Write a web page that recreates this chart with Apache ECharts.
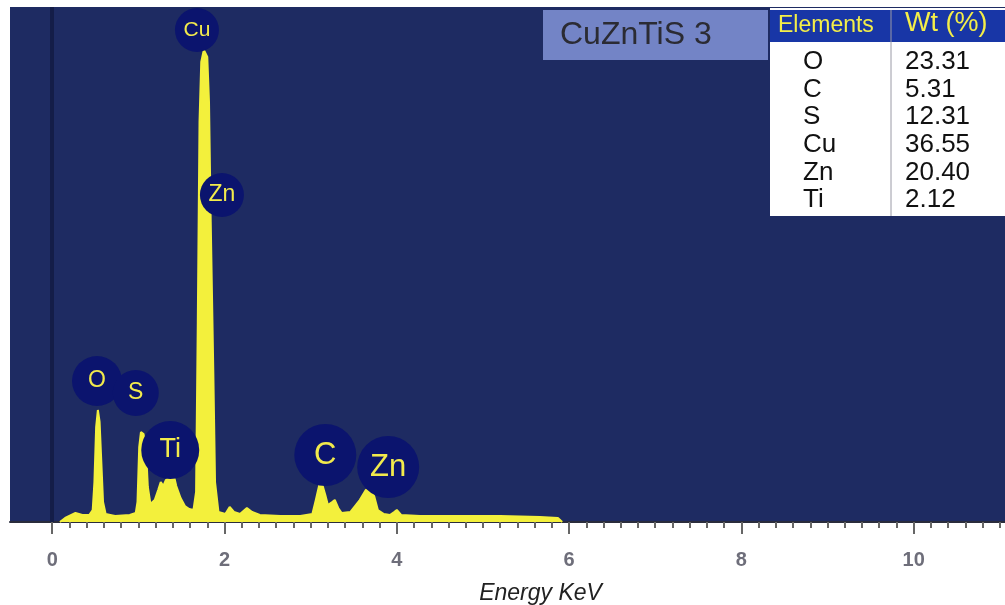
<!DOCTYPE html>
<html>
<head>
<meta charset="utf-8">
<title>CuZnTiS 3 EDX</title>
<script src="https://cdn.jsdelivr.net/npm/echarts@6.0.0/dist/echarts.min.js"></script>
<style>
  html, body { margin: 0; padding: 0; background: #fff; }
  #chart { width: 1005px; height: 605px; }
</style>
</head>
<body>
<div id="chart"></div>
<script>
// spectrum (energy in keV, counts in arbitrary units)
const energy = [0.09, 0.15, 0.27, 0.35, 0.43, 0.47, 0.49, 0.51, 0.53, 0.55, 0.57, 0.59, 0.62, 0.73, 0.90,
  0.97, 0.99, 1.01, 1.03, 1.06, 1.09, 1.11, 1.14, 1.19, 1.23, 1.26, 1.29, 1.32, 1.37, 1.41, 1.44, 1.49, 1.54, 1.59,
  1.64, 1.67, 1.69, 1.71, 1.73, 1.76, 1.80, 1.82, 1.84, 1.87, 1.89, 1.93,
  2.01, 2.06, 2.11, 2.18, 2.26, 2.32, 2.41, 2.65, 2.88, 3.02,
  3.06, 3.10, 3.13, 3.17, 3.20, 3.25, 3.28, 3.32, 3.36, 3.46, 3.57, 3.64, 3.69, 3.74, 3.78, 3.85,
  3.92, 3.97, 4.00, 4.05, 4.27, 5.20, 5.66, 5.87, 5.92];
const counts = [0, 4, 9, 7, 7, 12, 40, 95, 112, 100, 60, 20, 8, 6, 7,
  9, 20, 75, 90, 88, 70, 35, 18, 22, 32, 40, 36, 42, 45, 47, 36, 24, 16, 13,
  12, 30, 200, 400, 460, 472, 465, 420, 300, 150, 40, 10,
  8, 15, 10, 8, 14, 10, 7, 6, 6, 8,
  22, 37, 39, 27, 17, 20, 22, 14, 9, 10, 22, 32, 35, 25, 12, 8,
  7, 10, 12, 7, 6, 6, 5, 4, 0];

// peak labels: element, energy, height of the bubble
const peakNames = ['Cu', 'Zn', 'O', 'S', 'Ti', 'C', 'Zn'];
const peakEnergy = [1.68, 1.97, 0.52, 0.97, 1.37, 3.17, 3.90];
const peakHeight = [492, 327, 141, 129, 72, 67, 55];

const xTicks = [0, 2, 4, 6, 8, 10];

// composition table
const tableElements = ['O', 'C', 'S', 'Cu', 'Zn', 'Ti'];
const tableWt = ['23.31', '5.31', '12.31', '36.55', '20.40', '2.12'];
const sampleName = 'CuZnTiS 3';

const bubbleSize = [44, 44, 50, 46, 58, 62, 62];
const bubbleFont = [21, 23, 23, 23, 27, 31, 31];

const minorTicks = [];
for (let v = 0; v <= 11; v += 0.2) minorTicks.push(+v.toFixed(1));

const chart = echarts.init(document.getElementById('chart'));

const yellow = '#f3f03c';
const font = 'Liberation Sans, Arial, sans-serif';

const tableGraphics = [
  { type: 'rect', shape: { x: 543, y: 10, width: 225, height: 50 }, style: { fill: '#7384c6' } },
  { type: 'text', left: 560, top: 19, style: { text: sampleName, fontSize: 32, fontFamily: font, fill: '#2b2b33' } },
  { type: 'rect', shape: { x: 770, y: 8, width: 240, height: 208 }, style: { fill: '#ffffff' } },
  { type: 'rect', shape: { x: 770, y: 10, width: 240, height: 32 }, style: { fill: '#1836a6' } },
  { type: 'line', shape: { x1: 891, y1: 10, x2: 891, y2: 216 }, style: { stroke: '#9a9aa6', lineWidth: 1 } },
  { type: 'text', left: 778, top: 14, style: { text: 'Elements', fontSize: 23, fontFamily: font, fill: '#f4ee48' } },
  { type: 'text', left: 905, top: 10, style: { text: 'Wt (%)', fontSize: 27, fontFamily: font, fill: '#f4ee48' } }
];
tableElements.forEach((el, i) => {
  tableGraphics.push({ type: 'text', left: 803, top: 49 + i * 27.6, style: { text: el, fontSize: 26, fontFamily: font, fill: '#111' } });
  tableGraphics.push({ type: 'text', left: 905, top: 49 + i * 27.6, style: { text: tableWt[i], fontSize: 26, fontFamily: font, fill: '#111' } });
});

chart.setOption({
  backgroundColor: '#ffffff',
  animation: false,
  grid: {
    left: 10, right: 0, top: 7, bottom: 83,
    containLabel: false, outerBoundsMode: 'none',
    show: true, backgroundColor: '#1e2b62', borderWidth: 0
  },
  xAxis: [
    {
      type: 'value', min: -0.49, max: 11.06,
      name: 'Energy KeV', nameLocation: 'middle', nameGap: 60,
      nameTextStyle: { fontSize: 23, fontStyle: 'italic', fontFamily: font, color: '#222', padding: [0, 0, 0, 66] },
      axisLine: { show: true, lineStyle: { color: '#2a2c3c', width: 2 } },
      axisTick: { show: true, customValues: minorTicks, length: 6, lineStyle: { color: '#666', width: 2 } },
      axisLabel: { customValues: xTicks, margin: 28, fontSize: 20, fontWeight: 'bold', fontFamily: font, color: '#6e6e7a' },
      splitLine: { show: false }
    },
    {
      type: 'value', min: -0.49, max: 11.06, position: 'bottom',
      axisLine: { show: false },
      axisTick: { show: true, customValues: xTicks, length: 12, lineStyle: { color: '#666', width: 2 } },
      axisLabel: { show: false },
      splitLine: { show: false }
    }
  ],
  yAxis: {
    type: 'value', min: 0, max: 515,
    show: false, splitLine: { show: false }
  },
  series: [
    {
      type: 'line',
      data: energy.map((e, i) => [e, counts[i]]),
      showSymbol: false,
      lineStyle: { color: yellow, width: 2 },
      areaStyle: { color: yellow, opacity: 1 },
      markLine: {
        silent: true, symbol: 'none', label: { show: false },
        lineStyle: { color: '#141d48', width: 4, type: 'solid' },
        data: [{ xAxis: 0 }]
      },
      z: 2
    },
    {
      type: 'scatter',
      data: peakNames.map((n, i) => ({
        value: [peakEnergy[i], peakHeight[i]],
        symbolSize: bubbleSize[i],
        label: { fontSize: bubbleFont[i] }
      })),
      itemStyle: { color: '#0b146e', opacity: 1 },
      label: {
        show: true, position: 'inside', color: '#f2ea4c', fontFamily: font,
        formatter: p => peakNames[p.dataIndex]
      },
      z: 5
    }
  ],
  graphic: tableGraphics
});
</script>
</body>
</html>
